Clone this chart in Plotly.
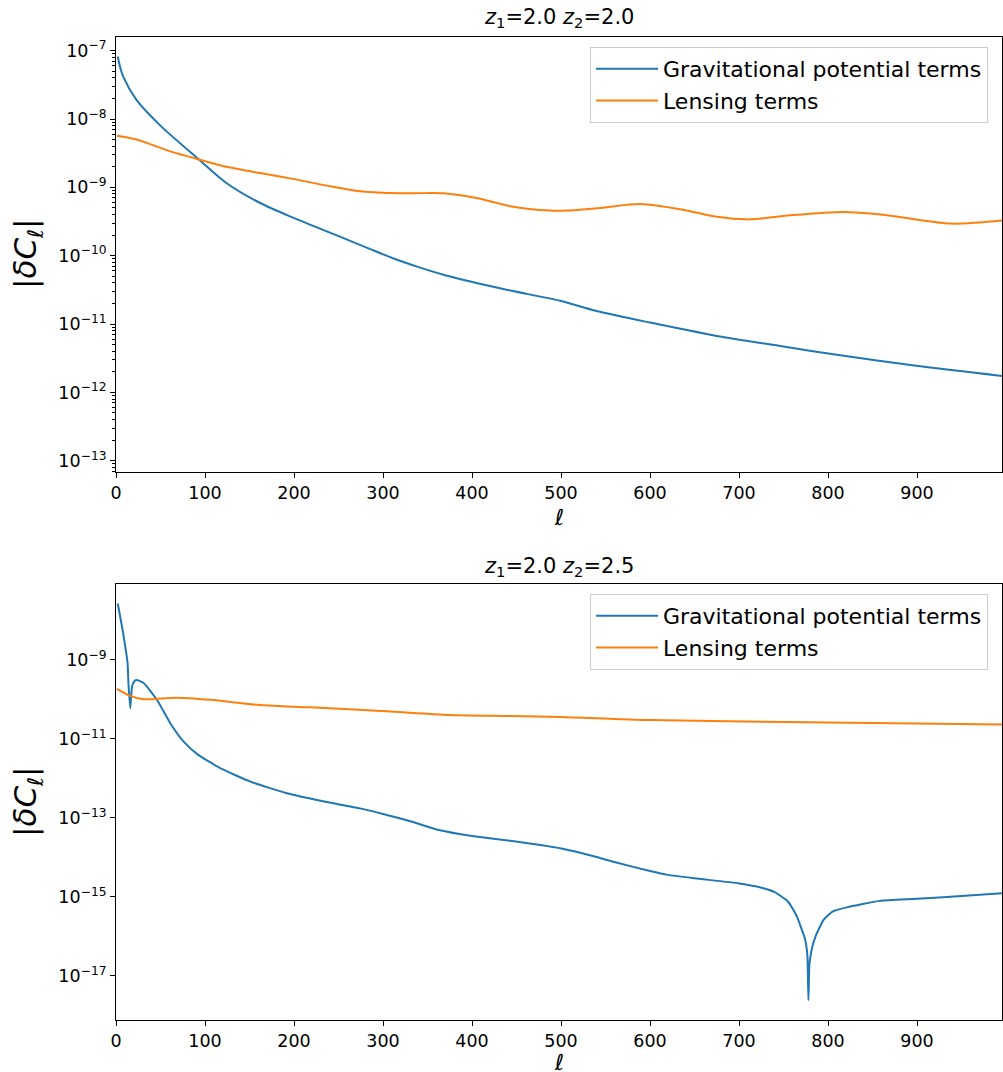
import plotly.graph_objects as go

# ---------------- data ----------------
# Panel 1: z1=2.0, z2=2.0
ell_grav_1 = [2, 4, 8, 23, 49, 94, 124, 162, 199, 255, 285, 312, 340, 368, 386, 405, 443, 499, 540, 600,
              675, 750, 806, 899, 996]
grav_1 = [8.2e-8, 6.2e-8, 4.2e-8, 1.9e-8, 8.2e-9, 2.5e-9, 1.16e-9, 5.9e-10, 3.6e-10, 1.82e-10,
          1.26e-10, 9.1e-11, 6.8e-11, 5.25e-11, 4.57e-11, 3.98e-11, 3.09e-11, 2.19e-11, 1.55e-11,
          1.05e-11, 6.7e-12, 4.7e-12, 3.6e-12, 2.45e-12, 1.74e-12]

ell_lens_1 = [1, 23, 61, 94, 124, 162, 199, 237, 274, 300, 330, 368, 405, 443, 488, 506, 544, 589, 637,
              675, 712, 757, 817, 862, 937, 996]
lens_1 = [5.7e-9, 5.0e-9, 3.36e-9, 2.54e-9, 2.0e-9, 1.62e-9, 1.33e-9, 1.06e-9, 8.75e-10, 8.35e-10,
          8.2e-10, 8.2e-10, 7.0e-10, 5.3e-10, 4.57e-10, 4.57e-10, 5.0e-10, 5.7e-10, 4.7e-10,
          3.7e-10, 3.4e-10, 3.9e-10, 4.37e-10, 3.98e-10, 2.95e-10, 3.27e-10]

# Panel 2: z1=2.0, z2=2.5
ell_grav_2 = [2, 8, 13, 14, 16, 18, 20, 23, 31, 46, 61, 76, 92, 117, 151, 192, 230, 274, 300, 330, 360,
              386, 400, 443, 499, 540, 560, 600, 620, 650, 700, 720, 740, 755, 765, 770, 774, 776, 777,
              778, 779, 780, 782, 786, 795, 805, 821, 858, 900, 950, 996]
grav_2 = [2.7e-8, 4.8e-9, 8.3e-10, 2.5e-10, 6.0e-11, 2.1e-10, 2.8e-10, 3.1e-10, 2.6e-10, 9.8e-11,
          2.5e-11, 8.5e-12, 4.0e-12, 1.82e-12, 8.3e-13, 4.2e-13, 2.7e-13, 1.74e-13, 1.26e-13, 8.3e-14,
          5.1e-14, 3.9e-14, 3.47e-14, 2.63e-14, 1.7e-14, 1.02e-14, 7.6e-15, 4.5e-15, 3.6e-15, 2.95e-15,
          2.19e-15, 1.82e-15, 1.32e-15, 7.6e-16, 3.2e-16, 1.6e-16, 8.9e-17, 5.0e-17, 2.8e-17, 2.4e-18,
          1.8e-17, 2.8e-17, 5.0e-17, 1.0e-16, 2.6e-16, 4.2e-16, 5.4e-16, 7.9e-16, 8.9e-16, 1.05e-15,
          1.23e-15]

ell_lens_2 = [1, 16, 31, 68, 106, 162, 218, 293, 368, 443, 499, 600, 800, 996]
lens_2 = [1.86e-10, 1.23e-10, 1.01e-10, 1.11e-10, 9.8e-11, 7.2e-11, 6.3e-11, 5.2e-11, 4.1e-11,
          3.8e-11, 3.6e-11, 3.0e-11, 2.6e-11, 2.3e-11]

series_names = ["Gravitational potential terms", "Lensing terms"]
titles = ["<i>z</i><sub>1</sub>=2.0 <i>z</i><sub>2</sub>=2.0",
          "<i>z</i><sub>1</sub>=2.0 <i>z</i><sub>2</sub>=2.5"]
x_ticks = [0, 100, 200, 300, 400, 500, 600, 700, 800, 900]
y_ticks_1 = [-7, -8, -9, -10, -11, -12, -13]
y_ticks_2 = [-9, -11, -13, -15, -17]

BLUE = "#1f77b4"
ORANGE = "#ff7f0e"
FONT = "DejaVu Sans"

fig = go.Figure()
fig.add_trace(go.Scatter(x=ell_grav_1, y=grav_1, mode="lines", name=series_names[0],
                         line=dict(color=BLUE, width=2, shape="spline", smoothing=0.8),
                         xaxis="x", yaxis="y", legend="legend"))
fig.add_trace(go.Scatter(x=ell_lens_1, y=lens_1, mode="lines", name=series_names[1],
                         line=dict(color=ORANGE, width=2, shape="spline", smoothing=0.8),
                         xaxis="x", yaxis="y", legend="legend"))
fig.add_trace(go.Scatter(x=ell_grav_2, y=grav_2, mode="lines", name=series_names[0],
                         line=dict(color=BLUE, width=2, shape="spline", smoothing=0.5),
                         xaxis="x2", yaxis="y2", legend="legend2"))
fig.add_trace(go.Scatter(x=ell_lens_2, y=lens_2, mode="lines", name=series_names[1],
                         line=dict(color=ORANGE, width=2, shape="spline", smoothing=0.8),
                         xaxis="x2", yaxis="y2", legend="legend2"))


def sup_text(e):
    return "10<sup>\u2212%d</sup>" % (-e)


minor_1 = [m * 10.0 ** e for e in range(-14, -6) for m in range(2, 10)]

axis_common = dict(showline=True, linecolor="black", linewidth=1, mirror=True,
                   ticks="outside", ticklen=5, tickwidth=1, tickcolor="black",
                   showgrid=False, zeroline=False,
                   tickfont=dict(family=FONT, size=17.5, color="black"))

top_dom = [(1020 - 472) / 983, 1.0]
bot_dom = [0.0, (1020 - 584) / 983]

legend_common = dict(xanchor="right", yanchor="top", bgcolor="rgba(255,255,255,0.8)",
                     bordercolor="#cccccc", borderwidth=1, itemwidth=62,
                     font=dict(family=FONT, size=22, color="black"), tracegroupgap=0)

fig.update_layout(
    width=1003, height=1072,
    margin=dict(l=116, r=1, t=37, b=52),
    paper_bgcolor="white", plot_bgcolor="white",
    font=dict(family=FONT, color="black"),
    xaxis=dict(domain=[0, 1], anchor="y", range=[0, 995.5], tickvals=x_ticks, **axis_common),
    yaxis=dict(domain=top_dom, anchor="x", type="log", range=[-13.165, -6.8],
               tickvals=[10.0 ** e for e in y_ticks_1], ticktext=[sup_text(e) for e in y_ticks_1],
               minor=dict(tickvals=minor_1, ticks="outside", ticklen=3, tickwidth=1, tickcolor="black",
                          showgrid=False),
               **axis_common),
    xaxis2=dict(domain=[0, 1], anchor="y2", range=[0, 995.5], tickvals=x_ticks, **axis_common),
    yaxis2=dict(domain=bot_dom, anchor="x2", type="log", range=[-18.12, -7.076],
                tickvals=[10.0 ** e for e in y_ticks_2], ticktext=[sup_text(e) for e in y_ticks_2],
                **axis_common),
    legend=dict(x=(988 - 116) / 886, y=(1020 - 47) / 983, **legend_common),
    legend2=dict(x=(988 - 116) / 886, y=(1020 - 594) / 983, **legend_common),
    showlegend=True,
)

annotations = [
    dict(text=titles[0], x=0.5, y=(1020 - 18) / 983, xref="paper", yref="paper",
         showarrow=False, font=dict(family=FONT, size=21, color="black"), xanchor="center", yanchor="middle"),
    dict(text=titles[1], x=0.5, y=(1020 - 567) / 983, xref="paper", yref="paper",
         showarrow=False, font=dict(family=FONT, size=21, color="black"), xanchor="center", yanchor="middle"),
    dict(text="<i>\u2113</i>", x=0.5, y=(1020 - 517) / 983, xref="paper", yref="paper",
         showarrow=False, font=dict(family=FONT, size=22, color="black"), xanchor="center", yanchor="middle"),
    dict(text="<i>\u2113</i>", x=0.5, y=(1020 - 1062) / 983, xref="paper", yref="paper",
         showarrow=False, font=dict(family=FONT, size=22, color="black"), xanchor="center", yanchor="middle"),
    dict(text="|<i>\u03b4C</i><sub><i>\u2113</i></sub>|", x=(27 - 116) / 886, y=(1020 - 254) / 983,
         xref="paper", yref="paper", textangle=-90,
         showarrow=False, font=dict(family=FONT, size=31, color="black"), xanchor="center", yanchor="middle"),
    dict(text="|<i>\u03b4C</i><sub><i>\u2113</i></sub>|", x=(27 - 116) / 886, y=(1020 - 802) / 983,
         xref="paper", yref="paper", textangle=-90,
         showarrow=False, font=dict(family=FONT, size=31, color="black"), xanchor="center", yanchor="middle"),
]
fig.update_layout(annotations=annotations)

fig.write_html("out.html", config={"displayModeBar": False},
               post_script="document.body.style.margin='0px';document.body.style.overflow='hidden';")
